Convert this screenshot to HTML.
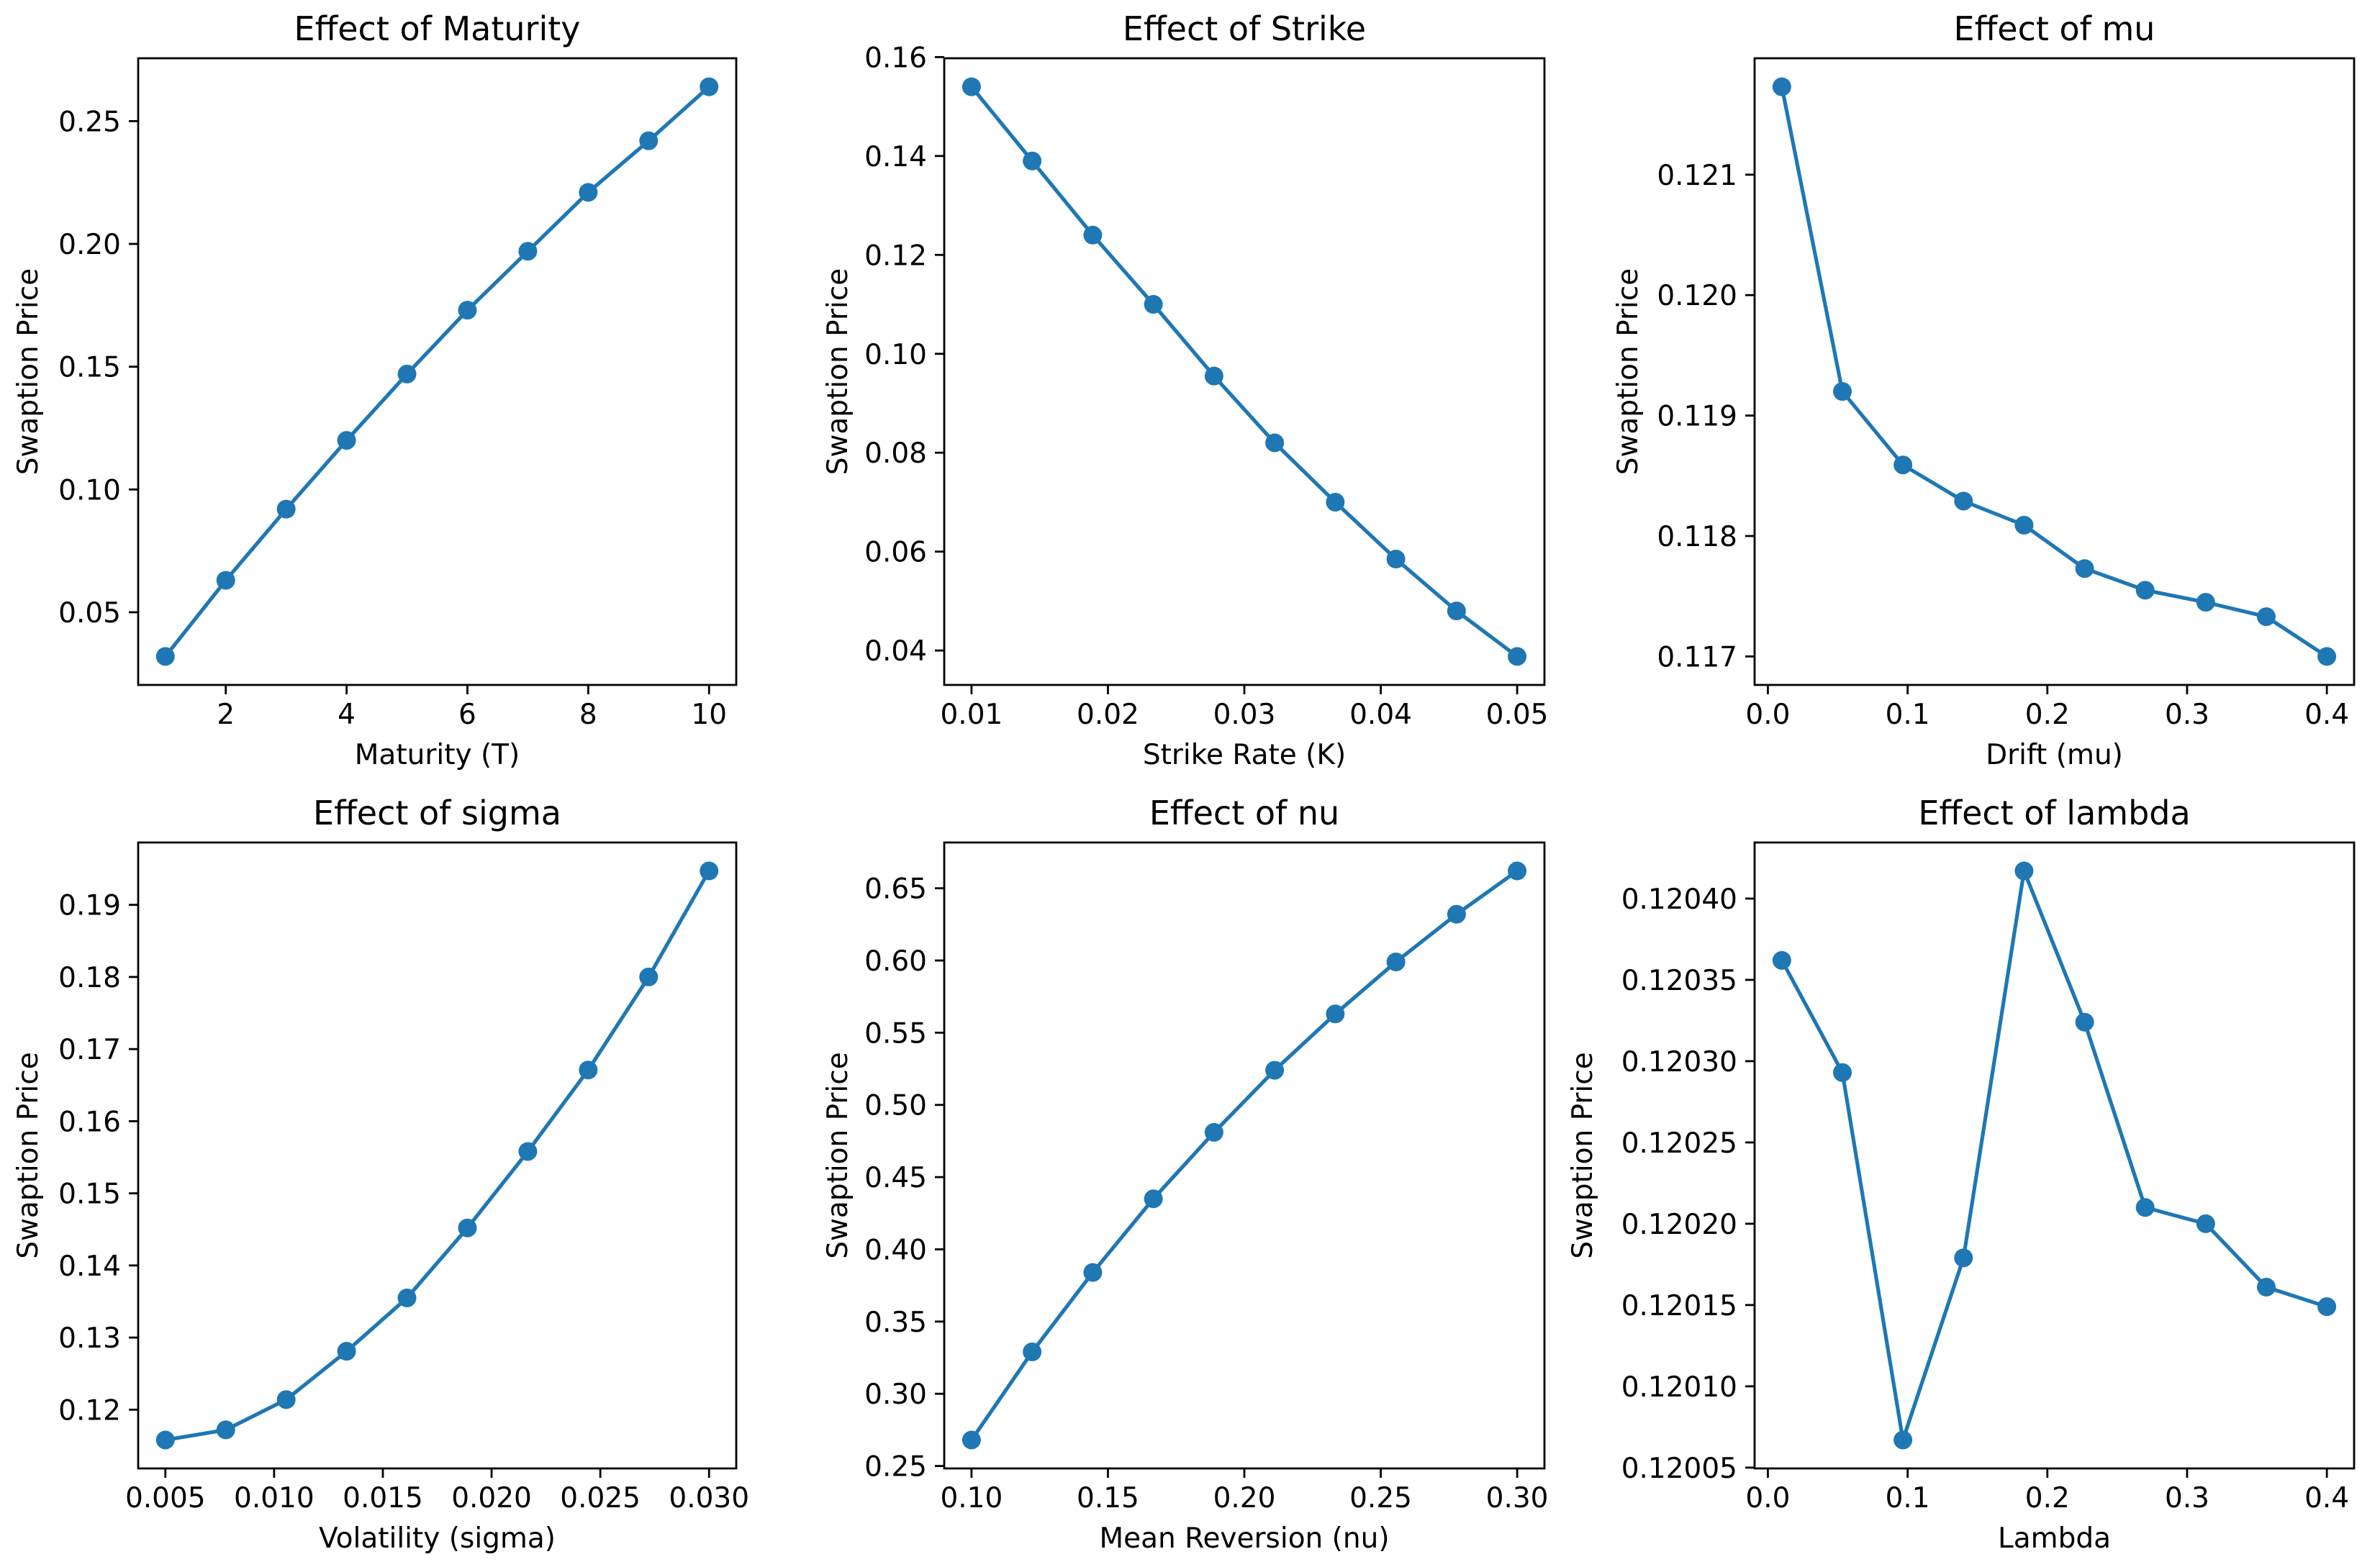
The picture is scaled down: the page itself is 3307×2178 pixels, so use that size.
<!DOCTYPE html>
<html><head><meta charset="utf-8"><style>
html,body{margin:0;padding:0;background:#fff;}
svg{display:block;font-family:"DejaVu Sans","Liberation Sans",sans-serif;}
</style></head><body>
<svg id="fig" width="3307" height="2178" viewBox="0 0 3307 2178" xmlns="http://www.w3.org/2000/svg"></svg>
<script>
// ---- data ----
const matX = [1,2,3,4,5,6,7,8,9,10];
const matY = [0.032,0.063,0.092,0.120,0.147,0.173,0.197,0.221,0.242,0.264];
const strikeX = [0.01,0.014444,0.018889,0.023333,0.027778,0.032222,0.036667,0.041111,0.045556,0.05];
const strikeY = [0.154,0.139,0.124,0.110,0.0955,0.082,0.070,0.0585,0.048,0.0388];
const muX = [0.01,0.053333,0.096667,0.14,0.183333,0.226667,0.27,0.313333,0.356667,0.4];
const muY = [0.12173,0.11920,0.11859,0.11829,0.11809,0.11773,0.11755,0.11745,0.11733,0.11700];
const sigX = [0.005,0.007778,0.010556,0.013333,0.016111,0.018889,0.021667,0.024444,0.027222,0.03];
const sigY = [0.1158,0.1172,0.1214,0.1281,0.1355,0.1452,0.1558,0.1671,0.1800,0.1947];
const nuX = [0.1,0.122222,0.144444,0.166667,0.188889,0.211111,0.233333,0.255556,0.277778,0.3];
const nuY = [0.268,0.329,0.384,0.435,0.481,0.524,0.563,0.599,0.632,0.662];
const lamX = [0.01,0.053333,0.096667,0.14,0.183333,0.226667,0.27,0.313333,0.356667,0.4];
const lamY = [0.120362,0.120293,0.120067,0.120179,0.120417,0.120324,0.120210,0.120200,0.120161,0.120149];
const matXTicks = [2,4,6,8,10];
const matYTicks = [0.05,0.10,0.15,0.20,0.25];
const strikeXTicks = [0.01,0.02,0.03,0.04,0.05];
const strikeYTicks = [0.04,0.06,0.08,0.10,0.12,0.14,0.16];
const muXTicks = [0,0.1,0.2,0.3,0.4];
const muYTicks = [0.117,0.118,0.119,0.120,0.121];
const sigXTicks = [0.005,0.010,0.015,0.020,0.025,0.030];
const sigYTicks = [0.12,0.13,0.14,0.15,0.16,0.17,0.18,0.19];
const nuXTicks = [0.10,0.15,0.20,0.25,0.30];
const nuYTicks = [0.25,0.30,0.35,0.40,0.45,0.50,0.55,0.60,0.65];
const lamXTicks = [0,0.1,0.2,0.3,0.4];
const lamYTicks = [0.12005,0.12010,0.12015,0.12020,0.12025,0.12030,0.12035,0.12040];

const NS = "http://www.w3.org/2000/svg";
const svg = document.getElementById('fig');
function mk(tag, attrs, parent){
  const e = document.createElementNS(NS, tag);
  for (const k in attrs) e.setAttribute(k, attrs[k]);
  (parent||svg).appendChild(e);
  return e;
}
function lim(arr){
  const mn = Math.min(...arr), mx = Math.max(...arr), m = (mx-mn)*0.05;
  return [mn-m, mx+m];
}
function chart(cfg){
  const {key,L,R,T,B,xs,ys,xt,yt,xd,yd,title,xlabel,ylx} = cfg;
  const g = mk('g', {});
  
  
  const [x0,x1] = lim(xs), [y0,y1] = lim(ys);
  const sx = v => L + (v-x0)/(x1-x0)*(R-L);
  const sy = v => B - (v-y0)/(y1-y0)*(B-T);
  const pts = xs.map((v,i)=>sx(v).toFixed(1)+','+sy(ys[i]).toFixed(1)).join(' ');
  const pl = mk('polyline', {points:pts, fill:'none', stroke:'#1f77b4', 'stroke-width':5.2, 'stroke-linejoin':'round'}, g);
  
  
  xs.forEach((v,i)=>{
    const c = mk('circle', {cx:sx(v), cy:sy(ys[i]), r:13, fill:'#1f77b4'}, g);
    
    
  });
  const sp = mk('rect', {x:L, y:T, width:R-L, height:B-T, fill:'none', stroke:'#000', 'stroke-width':2.8}, g);
  
  
  xt.forEach(v=>{
    const x = sx(v);
    mk('line', {x1:x, x2:x, y1:B, y2:B+13, stroke:'#000', 'stroke-width':2.8}, g);
    const t = mk('text', {x:x, y:B+54, 'text-anchor':'middle', 'font-size':39, fill:'#000'}, g);
    t.textContent = v.toFixed(xd);
    
    
  });
  yt.forEach(v=>{
    const y = sy(v);
    mk('line', {x1:L-13, x2:L, y1:y, y2:y, stroke:'#000', 'stroke-width':2.8}, g);
    const t = mk('text', {x:L-24, y:y+14, 'text-anchor':'end', 'font-size':39, fill:'#000'}, g);
    t.textContent = v.toFixed(yd);
    
    
  });
  const ti = mk('text', {x:(L+R)/2, y:T-25, 'text-anchor':'middle', 'font-size':46, fill:'#000'}, g);
  ti.textContent = title;
  
  
  const xl = mk('text', {x:(L+R)/2, y:B+110, 'text-anchor':'middle', 'font-size':39, fill:'#000'}, g);
  xl.textContent = xlabel;
  
  
  const cy = (T+B)/2;
  const yl = mk('text', {x:ylx, y:cy, 'text-anchor':'middle', 'font-size':39, fill:'#000', transform:'rotate(-90 '+ylx+' '+cy+')'}, g);
  yl.textContent = 'Swaption Price';
  
  
}
const cols = [[192,1023,52],[1312,2146,1177],[2438,3271,2275]];
const rows = [[81,952],[1171,2041]];
chart({key:'maturity',L:cols[0][0],R:cols[0][1],T:rows[0][0],B:rows[0][1],xs:matX,ys:matY,xt:matXTicks,yt:matYTicks,xd:0,yd:2,title:'Effect of Maturity',xlabel:'Maturity (T)',ylx:cols[0][2]});
chart({key:'strike',L:cols[1][0],R:cols[1][1],T:rows[0][0],B:rows[0][1],xs:strikeX,ys:strikeY,xt:strikeXTicks,yt:strikeYTicks,xd:2,yd:2,title:'Effect of Strike',xlabel:'Strike Rate (K)',ylx:cols[1][2]});
chart({key:'mu',L:cols[2][0],R:cols[2][1],T:rows[0][0],B:rows[0][1],xs:muX,ys:muY,xt:muXTicks,yt:muYTicks,xd:1,yd:3,title:'Effect of mu',xlabel:'Drift (mu)',ylx:cols[2][2]});
chart({key:'sigma',L:cols[0][0],R:cols[0][1],T:rows[1][0],B:rows[1][1],xs:sigX,ys:sigY,xt:sigXTicks,yt:sigYTicks,xd:3,yd:2,title:'Effect of sigma',xlabel:'Volatility (sigma)',ylx:cols[0][2]});
chart({key:'nu',L:cols[1][0],R:cols[1][1],T:rows[1][0],B:rows[1][1],xs:nuX,ys:nuY,xt:nuXTicks,yt:nuYTicks,xd:2,yd:2,title:'Effect of nu',xlabel:'Mean Reversion (nu)',ylx:cols[1][2]});
chart({key:'lambda',L:cols[2][0],R:cols[2][1],T:rows[1][0],B:rows[1][1],xs:lamX,ys:lamY,xt:lamXTicks,yt:lamYTicks,xd:1,yd:5,title:'Effect of lambda',xlabel:'Lambda',ylx:2212});
</script>
</body></html>
